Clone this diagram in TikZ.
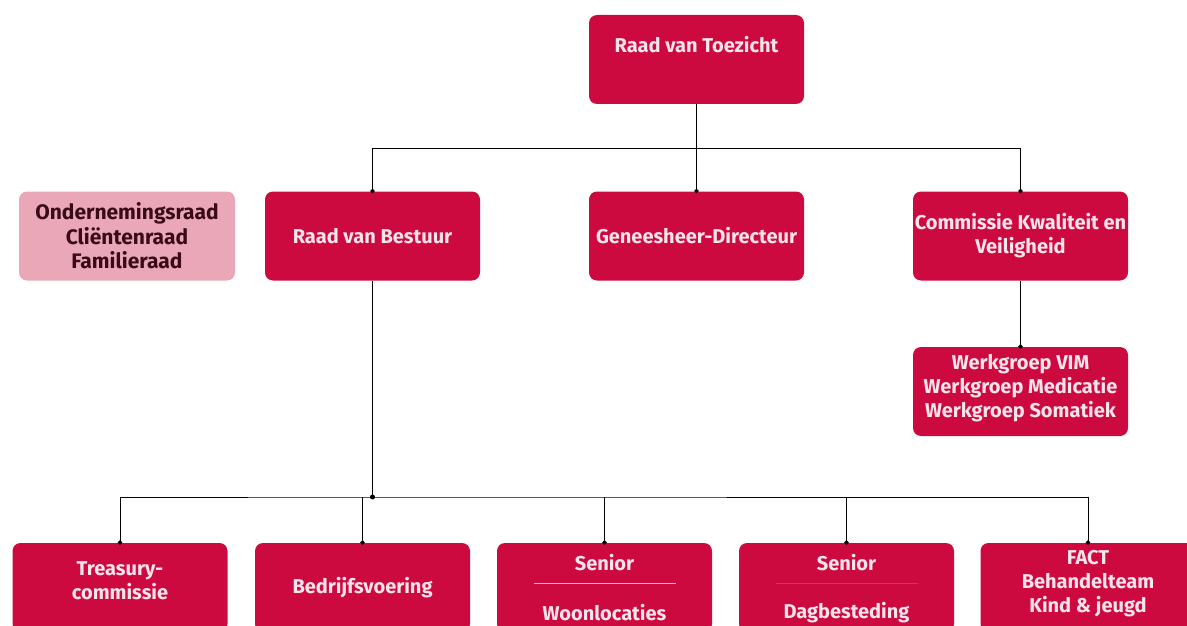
\documentclass[tikz,border=0pt]{standalone}
\usepackage{fontspec}
\setmainfont{Fira Sans}
\usetikzlibrary{positioning}
\definecolor{orgred}{HTML}{CD0A3F}
\definecolor{orgpink}{HTML}{E9A7B7}
\definecolor{orgtext}{HTML}{FBE4EB}
\definecolor{orgdark}{HTML}{3A0A18}

\begin{document}
\begin{tikzpicture}[x=1pt,y=-1pt,line width=.9pt]
\tikzstyle{box}=[draw=none,fill=orgred,rounded corners=8pt,minimum width=215pt,minimum height=89pt,inner sep=0pt]
\tikzstyle{txt}=[text=orgtext,font=\fontsize{20}{24}\selectfont\bfseries,align=center,inner sep=0pt]
\tikzstyle{dot}=[draw,shape=circle,fill=black,minimum size=4pt,inner sep=0pt]

\useasboundingbox (0,0) rectangle (1187,626);
\clip (0,0) rectangle (1187,626);

% top
\node[box] (rvt) at (696.5,59.5) {}; % Raad van Toezicht
\node[txt] (rvtT) at ([yshift=15pt]rvt.center) {Raad van Toezicht};

% second row
\node[fill=orgpink,rounded corners=8pt,minimum width=216pt,minimum height=89pt,inner sep=0pt,
  align=center,text=orgdark,font=\fontsize{21}{24.5}\selectfont\bfseries] (raden) at (127,236) {Ondernemingsraad\\Cliëntenraad\\Familieraad}; % raden
\node[box] (rvb) at (372.5,236) {}; % Raad van Bestuur
\node[txt] at (rvb) {Raad van Bestuur};
\node[box] (gd) at (696.5,236) {}; % Geneesheer-Directeur
\node[txt] at (gd) {Geneesheer-Directeur};
\node[box] (ckv) at (1020.5,236) {}; % Commissie Kwaliteit en Veiligheid
\node[txt] at (ckv) {Commissie Kwaliteit en\\Veiligheid};
\node[box] (wg) at (1020.5,391.5) {}; % werkgroepen
\node[txt] at ([yshift=3pt]wg.center) {Werkgroep VIM\\Werkgroep Medicatie\\Werkgroep Somatiek};

% bottom row
\node[box] (tc) at (120,587.5) {}; % Treasury
\node[txt] at ([yshift=7pt]tc.center) {Treasury-\\commissie};
\node[box] (bv) at (362.5,587.5) {}; % Bedrijfsvoering
\node[txt] at (bv) {Bedrijfsvoering};
\node[box] (sw) at (604.5,587.5) {}; % Senior Woonlocaties
\node[txt] at ([yshift=25pt]sw.center) {Senior};
\node[txt] at ([yshift=-25pt]sw.center) {Woonlocaties};
\draw[orgtext!80!orgred,line width=1pt] ([xshift=-71pt,yshift=4pt]sw.center) -- ([xshift=71pt,yshift=4pt]sw.center); % rule
\node[box] (sd) at (846.5,587.5) {}; % Senior Dagbesteding
\node[txt] at ([yshift=25pt]sd.center) {Senior};
\node[txt] at ([yshift=-25pt]sd.center) {Dagbesteding};
\draw[orgtext!70!blue!30!orgred,line width=.8pt] ([xshift=-71pt,yshift=4pt]sd.center) -- ([xshift=71pt,yshift=4pt]sd.center); % rule
\node[box] (fact) at (1088,587.5) {}; % FACT
\node[txt] at ([yshift=4pt]fact.center) {FACT\\Behandelteam\\Kind \& jeugd};

% connectors
\coordinate (top) at (696.5,148);
\coordinate (hl) at (372.5,148);
\coordinate (jb) at (372.5,497);
\draw (rvt.south) -- (top);
\draw (rvb.north) -- (hl) -| (ckv.north);
\draw (top) -- (gd.north);
\draw (ckv.south) -- (wg.north);
\draw (rvb.south) -- (jb);
\draw (tc.north) |- (jb) -| (fact.north);
\draw (bv.north) -- (bv.north |- jb);
\draw (sw.north) -- (sw.north |- jb);
\draw (sd.north) -- (sd.north |- jb);

% small dots
\foreach \n in {rvb,gd,ckv,wg,tc,bv,sw,sd,fact}
  \node[dot,minimum size=3.5pt] at (\n.north) {};
\node[dot] at (jb) {};
\end{tikzpicture}
\end{document}
